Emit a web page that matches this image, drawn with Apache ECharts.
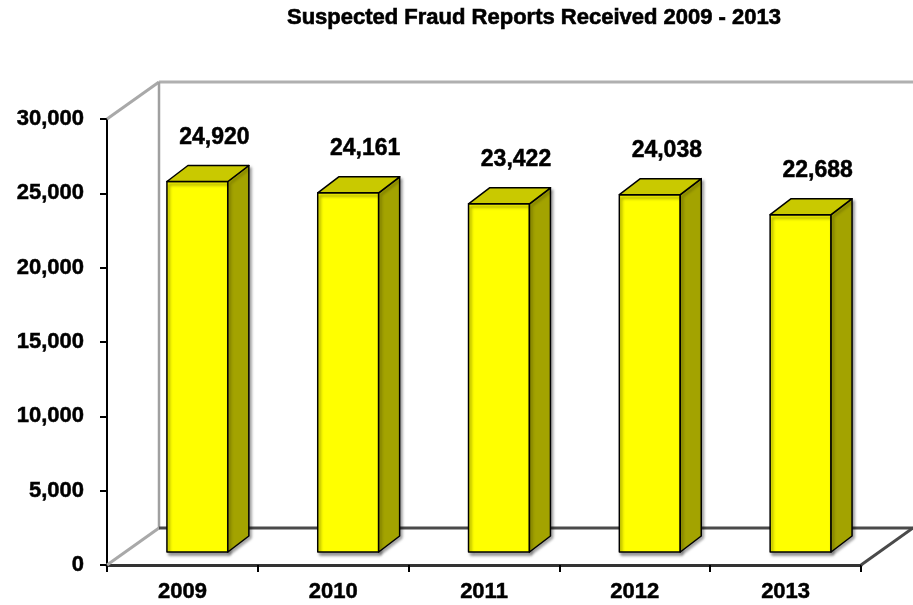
<!DOCTYPE html>
<html>
<head>
<meta charset="utf-8">
<script src="https://cdn.jsdelivr.net/npm/echarts@6/dist/echarts.min.js"></script>
<style>html,body{margin:0;padding:0;background:#fff}#c{width:913px;height:605px}</style>
</head>
<body>
<div id="c"></div>
<script>
const categories = ['2009', '2010', '2011', '2012', '2013'];
const reports = [24920, 24161, 23422, 24038, 22688];
const yTicks = { min: 0, max: 30000, interval: 5000 };
const titleText = 'Suspected Fraud Reports Received 2009 - 2013';

const chart = echarts.init(document.getElementById('c'));
const FONT = '"Liberation Sans", Arial, sans-serif';
const fmt = v => v.toLocaleString('en-US');

// 3D depth of floor / wall (pixels)
const DX = 52, DY = -37;

function frameRender(params, api) {
  const bw = api.size([1, 0])[0];
  const p0 = api.coord([0, 0]);
  const xl = p0[0] - bw / 2;
  const xr = xl + categories.length * bw;
  const y0 = p0[1];
  const yt = api.coord([0, yTicks.max])[1];
  const gray = { stroke: '#a9a9a9', lineWidth: 3 };
  const dark = { stroke: '#4a4a4a', lineWidth: 3 };
  return {
    type: 'group',
    children: [
      { type: 'line', shape: { x1: xl, y1: yt, x2: xl + DX, y2: yt + DY }, style: gray },
      { type: 'line', shape: { x1: xl + DX, y1: yt + DY, x2: xr + DX, y2: yt + DY }, style: { stroke: '#b0b0b0', lineWidth: 3 } },
      { type: 'line', shape: { x1: xl + DX, y1: yt + DY, x2: xl + DX, y2: y0 + DY }, style: { stroke: '#a0a0a0', lineWidth: 2.5 } },
      { type: 'line', shape: { x1: xl, y1: y0, x2: xl + DX, y2: y0 + DY }, style: gray },
      { type: 'line', shape: { x1: xl + DX, y1: y0 + DY, x2: xr + DX, y2: y0 + DY }, style: dark },
      { type: 'line', shape: { x1: xr, y1: y0, x2: xr + DX, y2: y0 + DY }, style: dark }
    ]
  };
}

function barRender(params, api) {
  const i = api.value(0), v = api.value(1);
  const bw = api.size([1, 0])[0];
  const top = api.coord([i, v]);
  const base = api.coord([i, 0]);
  const w = bw * 0.404;
  const cx = top[0] + 15;
  const sy = -13;
  const x1 = cx - w / 2, x2 = cx + w / 2;
  const yT = top[1] + sy, yB = base[1] + sy;
  const dx = 21, dy = -16;
  const edge = { stroke: '#000', lineWidth: 1.5, lineJoin: 'round' };
  return {
    type: 'group',
    children: [
      { type: 'polygon', shape: { points: [[x1, yT], [x2, yT], [x2, yB], [x1, yB]] },
        style: Object.assign({ fill: '#ffff00', shadowColor: 'rgba(0,0,0,0.45)', shadowBlur: 3, shadowOffsetX: 2, shadowOffsetY: 3 }, edge) },
      { type: 'polygon', shape: { points: [[x2, yT], [x2 + dx, yT + dy], [x2 + dx, yB + dy], [x2, yB]] },
        style: Object.assign({ fill: '#a3a300', shadowColor: 'rgba(0,0,0,0.35)', shadowBlur: 3, shadowOffsetX: 2, shadowOffsetY: 2 }, edge) },
      { type: 'polygon', shape: { points: [[x1, yT], [x2, yT], [x2 + dx, yT + dy], [x1 + dx, yT + dy]] },
        style: Object.assign({ fill: '#c9c900' }, edge) },
      { type: 'text', x: cx + 17, y: yT + dy - 28,
        style: { text: fmt(v), font: 'bold 23px ' + FONT, fill: '#000', align: 'center', verticalAlign: 'middle',
                 stroke: '#000', lineWidth: 0.5 } }
    ]
  };
}

const axisText = { fontFamily: FONT, fontSize: 22, fontWeight: 'bold', color: '#000', textBorderColor: '#000', textBorderWidth: 0.5 };

chart.setOption({
  animation: false,
  title: {
    text: titleText, left: 282, top: 2,
    textStyle: { fontFamily: FONT, fontSize: 22, fontWeight: 'bold', color: '#000', textBorderColor: '#000', textBorderWidth: 0.6 }
  },
  grid: { left: 107, top: 119, width: 754, height: 446, containLabel: false },
  xAxis: {
    type: 'category', data: categories,
    axisLine: { show: true, lineStyle: { color: '#333', width: 3 } },
    axisTick: { show: true, length: 7, lineStyle: { color: '#000', width: 2 } },
    axisLabel: Object.assign({ margin: 16 }, axisText),
    splitLine: { show: false }
  },
  yAxis: {
    type: 'value', min: yTicks.min, max: yTicks.max, interval: yTicks.interval,
    axisLine: { show: true, lineStyle: { color: '#000', width: 2 } },
    axisTick: { show: true, length: 7, lineStyle: { color: '#000', width: 2 } },
    axisLabel: Object.assign({ margin: 23, formatter: v => fmt(v) }, axisText),
    splitLine: { show: false }
  },
  series: [
    { type: 'custom', z: 1, renderItem: frameRender, data: [[0, 0]], silent: true, clip: false },
    { type: 'custom', z: 3, renderItem: barRender, data: reports.map((v, i) => [i, v]), clip: false }
  ]
});
</script>
</body>
</html>
